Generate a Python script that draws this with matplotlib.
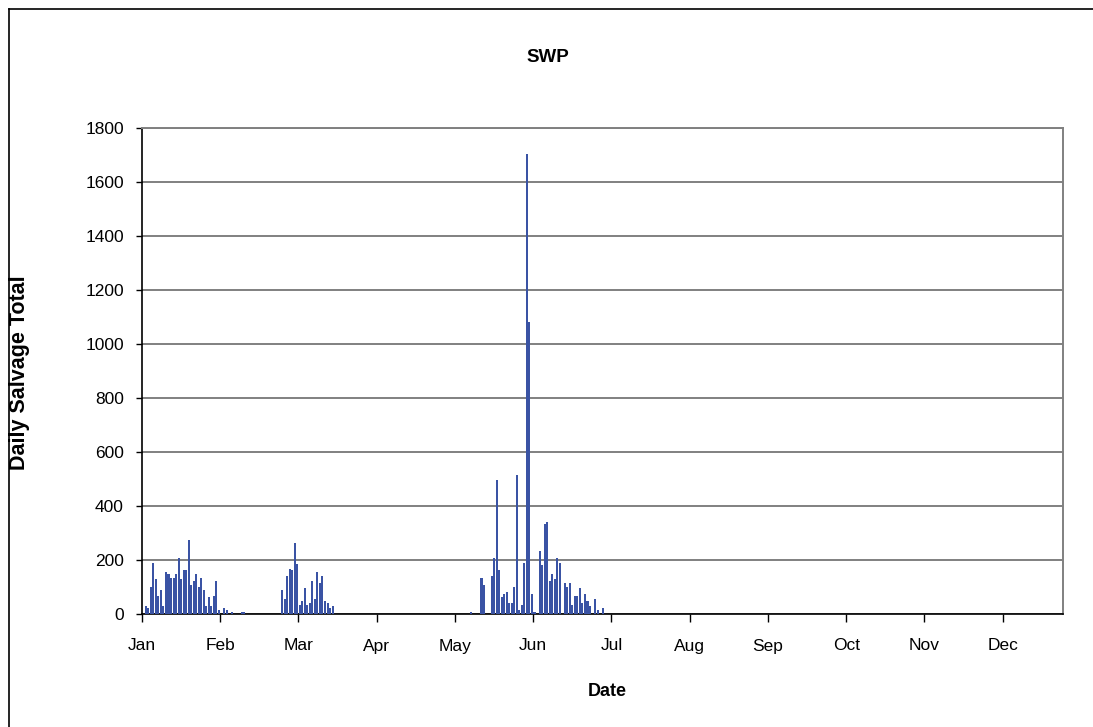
import matplotlib
matplotlib.use("Agg")
import matplotlib.pyplot as plt
import numpy as np
from matplotlib.lines import Line2D

plt.rcParams['font.family'] = ['Liberation Sans', 'DejaVu Sans']

# ---- data (day index from Jan 1 = 0, 365 daily categories) ----
month_labels = ["Jan", "Feb", "Mar", "Apr", "May", "Jun",
                "Jul", "Aug", "Sep", "Oct", "Nov", "Dec"]
n_days = 365

winter_start = 1
winter_vals = [27, 21, 97, 186, 127, 64, 86, 27, 153, 146, 131, 131, 146, 205,
               127, 160, 160, 272, 105, 120, 146, 97, 131, 86, 27, 60, 27, 64,
               120, 12, 0, 20, 12, 0, 5, 0, 0, 0, 5, 5]

march_start = 55
march_vals = [86, 53, 138, 164, 160, 260, 185, 31, 46, 94, 31, 38, 120, 53,
              153, 112, 138, 46, 38, 20, 27]

spring_start = 130
spring_vals = [5, 0, 0, 0, 131, 105, 0, 0, 138, 205, 494, 160, 60, 72, 79, 38,
               38, 97, 512, 12, 31, 187, 1705, 1080, 72, 5, 0, 231, 179, 331,
               338, 120, 146, 128, 205, 187, 0, 112, 97, 112, 31, 64, 64, 94,
               38, 72, 46, 27, 0, 53, 12, 0, 20]

daily = np.zeros(n_days)
for start, vals in [(winter_start, winter_vals), (march_start, march_vals),
                    (spring_start, spring_vals)]:
    daily[start:start + len(vals)] = vals

days = np.arange(n_days)

# ---- figure ----
W, H = 1093, 727
fig = plt.figure(figsize=(W / 100, H / 100), dpi=100)
fig.patch.set_facecolor('white')

left, right, top, bottom = 142, 1063.3, 128, 613.5
ax = fig.add_axes([left / W, (H - bottom) / H, (right - left) / W, (bottom - top) / H])

ax.bar(days + 0.5, daily, width=0.8, color='#3A53A4', edgecolor='none', zorder=3)

ax.set_xlim(0, n_days)
ax.set_ylim(0, 1800)
ax.set_yticks(np.arange(0, 1801, 200))
ax.set_xticks(np.arange(0, 12) * 31)
ax.set_xticklabels(month_labels)

ax.yaxis.grid(True, color='#808080', linewidth=1.4, zorder=0)
ax.set_axisbelow(True)

for s in ['left', 'bottom']:
    ax.spines[s].set_color('#000000')
    ax.spines[s].set_linewidth(1.2)
for s in ['top', 'right']:
    ax.spines[s].set_color('#808080')
    ax.spines[s].set_linewidth(1.4)

ax.tick_params(axis='x', direction='out', length=6, width=1, pad=12,
               labelsize=12.5, colors='black')
ax.tick_params(axis='y', direction='out', length=4, width=1, pad=9,
               labelsize=12.5, colors='black')

fig.text(0.5015, 1 - 57 / H, 'SWP', ha='center', va='center',
         fontsize=13.5, fontweight='bold')
fig.text(607 / W, 1 - 691 / H, 'Date', ha='center', va='center',
         fontsize=13, fontweight='bold')
fig.text(20 / W, 1 - 373 / H, 'Daily Salvage Total', ha='center', va='center',
         rotation=90, fontsize=15.5, fontweight='bold')

# outer chart border (left and top visible)
x0, y0 = 8.5 / W, 1 - 8.5 / H
fig.add_artist(Line2D([x0, x0], [y0, 0], transform=fig.transFigure,
                      color='black', linewidth=1.2))
fig.add_artist(Line2D([x0, 1], [y0, y0], transform=fig.transFigure,
                      color='black', linewidth=1.2))

fig.savefig('out.png', dpi=100, facecolor='white')
